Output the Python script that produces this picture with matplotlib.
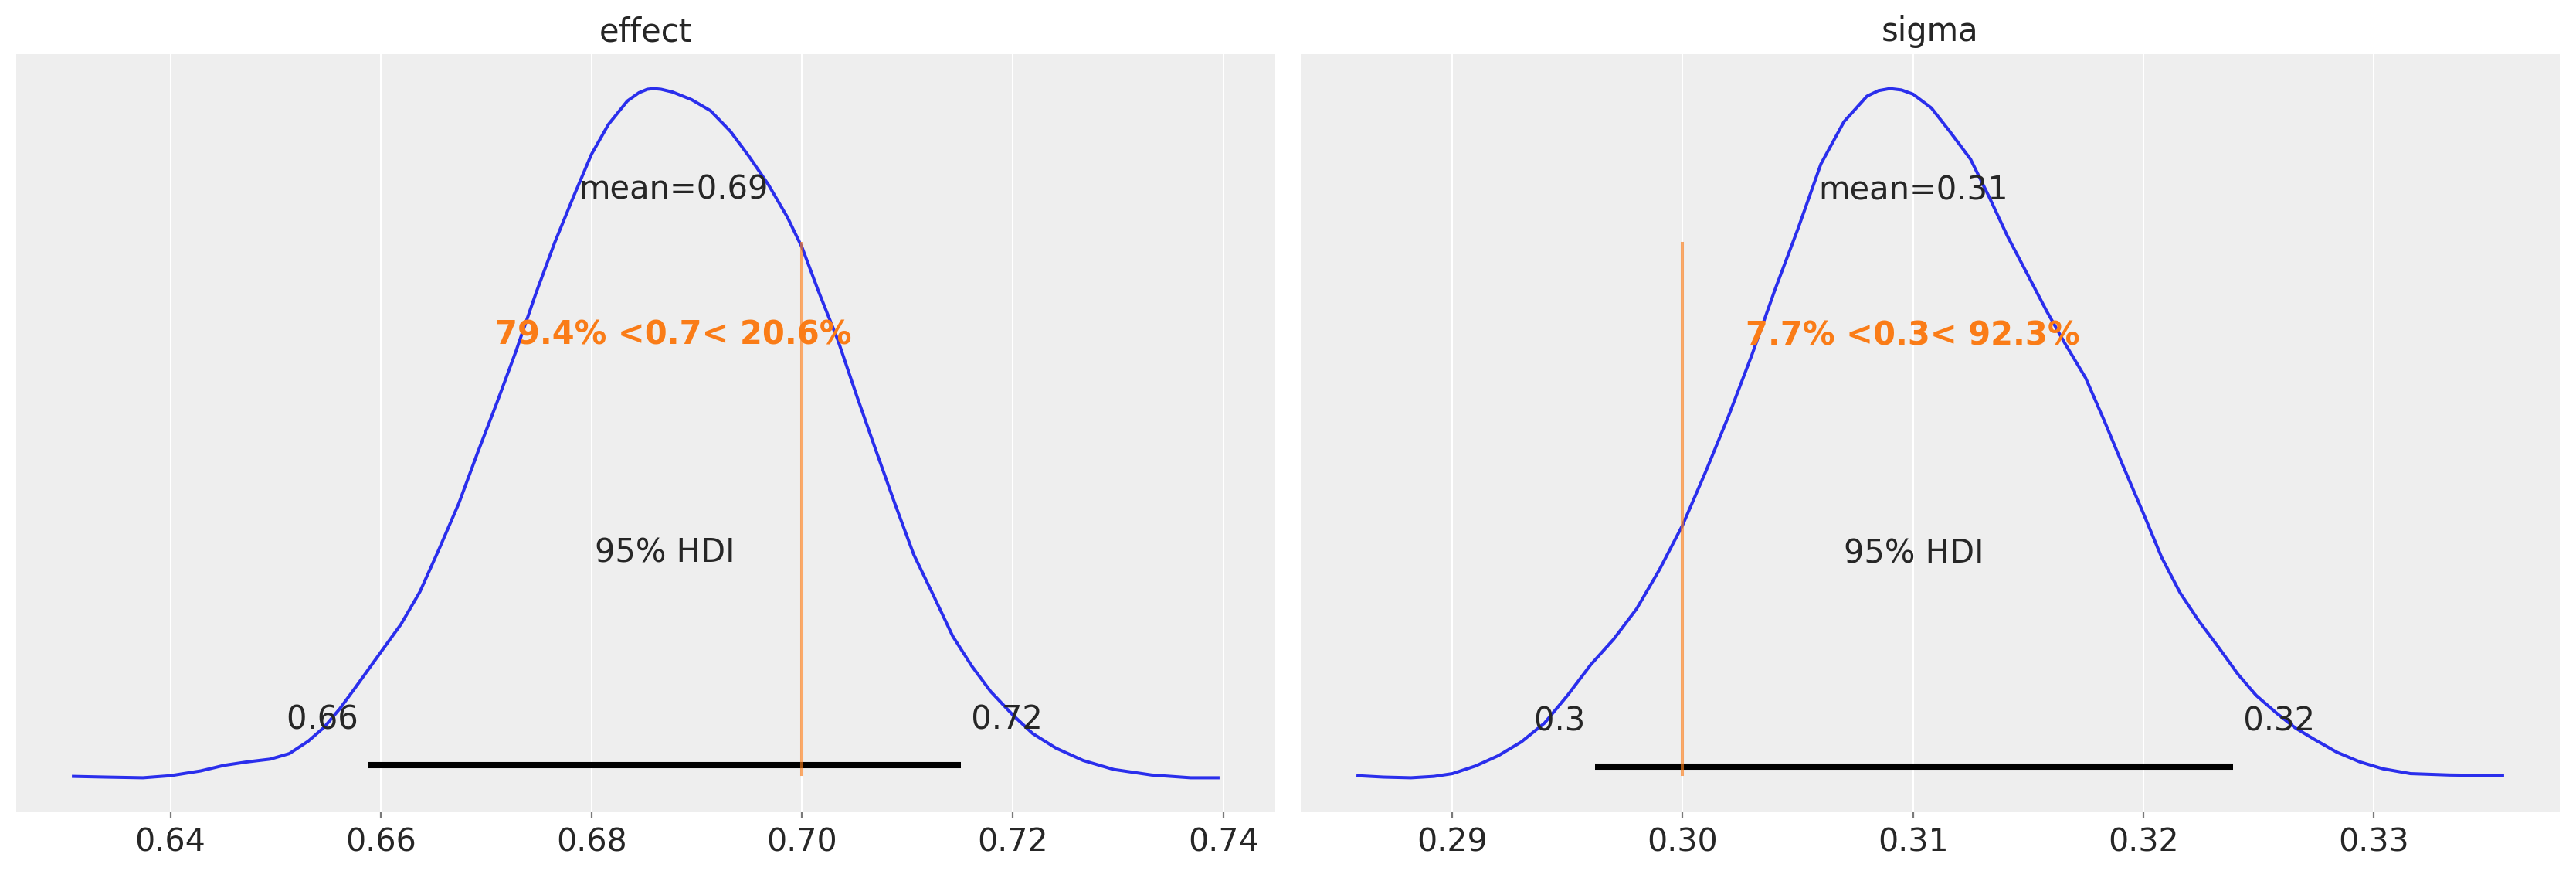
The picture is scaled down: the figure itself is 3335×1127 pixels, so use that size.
import matplotlib
matplotlib.use("Agg")
import matplotlib.pyplot as plt

# ---------------- data ----------------
var_names = ["effect", "sigma"]

effect_x = [0.6308, 0.6338, 0.6374, 0.6400, 0.6429, 0.6451, 0.6473, 0.6495, 0.6513,
            0.6531, 0.6546, 0.6561, 0.6575, 0.6600, 0.6619, 0.6637, 0.6655, 0.6674,
            0.6692, 0.6710, 0.6728, 0.6747, 0.6765, 0.6783, 0.6800, 0.6816, 0.6834,
            0.6845, 0.6853, 0.6859, 0.6866, 0.6877, 0.6895, 0.6913, 0.6932, 0.6950,
            0.6968, 0.6986, 0.7000, 0.7015, 0.7034, 0.7052, 0.7070, 0.7088, 0.7106,
            0.7125, 0.7143, 0.7161, 0.7179, 0.7200, 0.7219, 0.7241, 0.7267, 0.7296,
            0.7332, 0.7369, 0.7395]
effect_density = [0.005, 0.004, 0.003, 0.006, 0.013, 0.021, 0.026, 0.030, 0.038,
                  0.056, 0.076, 0.103, 0.132, 0.185, 0.225, 0.272, 0.333, 0.400,
                  0.474, 0.545, 0.619, 0.703, 0.777, 0.844, 0.905, 0.948, 0.982,
                  0.994, 0.999, 1.000, 0.999, 0.995, 0.984, 0.968, 0.938, 0.901,
                  0.861, 0.814, 0.770, 0.709, 0.636, 0.555, 0.477, 0.400, 0.326,
                  0.266, 0.208, 0.165, 0.128, 0.094, 0.067, 0.046, 0.028, 0.015,
                  0.007, 0.003, 0.003]

sigma_x = [0.2859, 0.2870, 0.2882, 0.2892, 0.2900, 0.2910, 0.2920, 0.2930, 0.2940,
           0.2950, 0.2960, 0.2970, 0.2980, 0.2990, 0.3000, 0.3010, 0.3020, 0.3030,
           0.3040, 0.3050, 0.3060, 0.3070, 0.3080, 0.3085, 0.3090, 0.3095, 0.3100,
           0.3108, 0.3116, 0.3125, 0.3133, 0.3141, 0.3150, 0.3158, 0.3166, 0.3175,
           0.3183, 0.3191, 0.3200, 0.3208, 0.3216, 0.3224, 0.3233, 0.3241, 0.3249,
           0.3258, 0.3266, 0.3274, 0.3284, 0.3294, 0.3304, 0.3316, 0.3333, 0.3356]
sigma_density = [0.008, 0.006, 0.005, 0.007, 0.011, 0.022, 0.037, 0.057, 0.084,
                 0.124, 0.168, 0.205, 0.249, 0.306, 0.370, 0.447, 0.528, 0.615,
                 0.709, 0.797, 0.891, 0.952, 0.989, 0.997, 1.000, 0.998, 0.992,
                 0.972, 0.938, 0.898, 0.844, 0.787, 0.730, 0.679, 0.632, 0.582,
                 0.521, 0.457, 0.387, 0.323, 0.272, 0.232, 0.192, 0.155, 0.124,
                 0.098, 0.077, 0.061, 0.042, 0.028, 0.018, 0.011, 0.009, 0.008]

effect_ticks = [0.64, 0.66, 0.68, 0.70, 0.72, 0.74]
sigma_ticks = [0.29, 0.30, 0.31, 0.32, 0.33]

means = [0.6878, 0.3100]
hdi_low = [0.6588, 0.2962]
hdi_high = [0.7151, 0.3239]
ref_vals = [0.7, 0.3]
pct_below = [79.4, 7.7]
pct_above = [20.6, 92.3]

# ---------------- style ----------------
BG = "#eeeeee"
TEXT = "#262626"
BLUE = "#2a2eec"
ORANGE = "#fa7c17"
FS = 15.0

plt.rcParams["font.family"] = ["DejaVu Sans"]
plt.rcParams["text.color"] = TEXT

fig = plt.figure(figsize=(16.675, 5.635), dpi=200)
ax_rects = [
    [21 / 3335, 1 - 1051 / 1127, 1630 / 3335, 981 / 1127],
    [1684 / 3335, 1 - 1051 / 1127, 1630 / 3335, 981 / 1127],
]

xs = [effect_x, sigma_x]
ds = [effect_density, sigma_density]
ticks = [effect_ticks, sigma_ticks]

for i in range(2):
    ax = fig.add_axes(ax_rects[i])
    ax.set_facecolor(BG)
    for s in ax.spines.values():
        s.set_visible(False)
    ax.grid(True, axis="x", color="white", linewidth=0.75)
    ax.set_axisbelow(True)

    ax.plot(xs[i], ds[i], color=BLUE, linewidth=1.45, solid_joinstyle="round")
    ax.margins(x=0.05, y=0.05)
    ylo, yhi = ax.get_ylim()
    ax.set_ylim(ylo, yhi)
    plot_height = yhi

    # HDI bar and labels
    ax.plot([hdi_low[i], hdi_high[i]], [plot_height * 0.02, plot_height * 0.02],
            lw=2.9, color="k", solid_capstyle="butt")
    ax.text(hdi_low[i], plot_height * 0.07, f"{hdi_low[i]:.2g} ", size=FS,
            ha="right", color=TEXT)
    ax.text(hdi_high[i], plot_height * 0.07, f" {hdi_high[i]:.2g}", size=FS,
            ha="left", color=TEXT)
    ax.text((hdi_low[i] + hdi_high[i]) / 2, plot_height * 0.3, "95% HDI", size=FS,
            ha="center", color=TEXT)

    # point estimate
    ax.text(means[i], plot_height * 0.8, f"mean={means[i]:.2g}", size=FS,
            ha="center", color=TEXT)

    # reference value
    ax.axvline(ref_vals[i], ymin=0.05, ymax=0.75, lw=1.45, alpha=0.65, color=ORANGE)
    ax.text(means[i], plot_height * 0.6,
            f"{pct_below[i]:.1f}% <{ref_vals[i]:g}< {pct_above[i]:.1f}%",
            size=FS, weight="semibold", ha="center", color=ORANGE)

    ax.set_xticks(ticks[i])
    ax.set_xticklabels([f"{t:.2f}" for t in ticks[i]])
    ax.set_yticks([])
    ax.tick_params(axis="x", labelsize=14.8, labelcolor=TEXT, color="#7a7a7a",
                   length=3, width=0.8, pad=4)
    ax.set_title(var_names[i], fontsize=FS, color=TEXT, pad=6)

fig.savefig("out.png", dpi=200, facecolor="white")
